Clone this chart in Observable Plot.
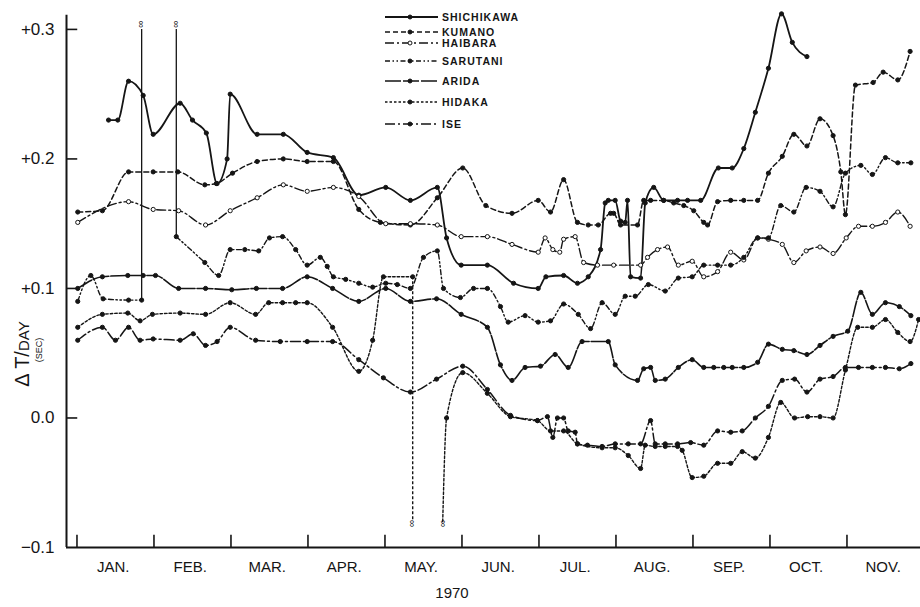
<!DOCTYPE html>
<html><head><meta charset="utf-8">
<script src="https://cdn.jsdelivr.net/npm/d3@7"></script>
<script src="https://cdn.jsdelivr.net/npm/@observablehq/plot@0.6"></script>
<style>body{margin:0;background:#fff}#chart{width:920px;height:607px}</style>
</head><body><div id="chart"></div>
<script>
// x: months since 1 Jan 1970 (0 = Jan 1, 1 = Feb 1, ...); y: ΔT per day (sec)
const monthLabels = ["JAN.","FEB.","MAR.","APR.","MAY.","JUN.","JUL.","AUG.","SEP.","OCT.","NOV."];
const monthTicks = [0,1,2,3,4,5,6,7,8,9,10];
const yTicks = [-0.1, 0, 0.1, 0.2, 0.3];
const yTickLabels = ["\u22120.1","0.0","+0.1","+0.2","+0.3"];
const yearLabel = "1970";

const shichikawa = [[0.41,0.230],[0.53,0.230],[0.67,0.260],[0.86,0.249],[0.99,0.219],[1.34,0.243],[1.50,0.230],[1.68,0.220],[1.82,0.181],[1.95,0.200],[1.99,0.250],[2.34,0.219],[2.68,0.219],[2.99,0.205],[3.33,0.201],[3.66,0.172],[4.01,0.178],[4.33,0.168],[4.68,0.178],[4.80,0.139],[4.99,0.118],[5.33,0.118],[5.67,0.104],[5.99,0.100],[6.09,0.109],[6.32,0.110],[6.50,0.104],[6.64,0.109],[6.80,0.130],[6.86,0.166],[6.90,0.168],[6.99,0.168],[7.06,0.152],[7.12,0.151],[7.15,0.168],[7.19,0.109],[7.32,0.108],[7.38,0.166],[7.49,0.178],[7.62,0.168],[7.80,0.168],[7.93,0.168],[8.10,0.168],[8.33,0.193],[8.51,0.193],[8.66,0.208],[8.81,0.236],[8.98,0.270],[9.15,0.312],[9.29,0.290],[9.48,0.279]];
const kumano = [[0.01,0.159],[0.33,0.160],[0.67,0.190],[0.99,0.190],[1.31,0.190],[1.66,0.180],[1.81,0.181],[2.02,0.189],[2.34,0.198],[2.68,0.200],[2.99,0.198],[3.33,0.198],[3.66,0.161],[3.94,0.151],[4.33,0.149],[4.68,0.170],[5.01,0.193],[5.31,0.164],[5.65,0.158],[5.99,0.168],[6.15,0.159],[6.32,0.184],[6.50,0.151],[6.64,0.149],[6.77,0.149],[6.93,0.158],[6.97,0.158],[7.06,0.149],[7.28,0.149],[7.36,0.168],[7.45,0.168],[7.62,0.168],[7.75,0.166],[7.88,0.164],[8.01,0.160],[8.14,0.151],[8.19,0.149],[8.32,0.167],[8.49,0.168],[8.66,0.168],[8.84,0.168],[8.98,0.189],[9.16,0.202],[9.31,0.219],[9.48,0.210],[9.65,0.231],[9.82,0.218],[9.92,0.190],[9.98,0.157],[10.11,0.257],[10.34,0.259],[10.47,0.267],[10.66,0.261],[10.82,0.283]];
const haibara = [[0.01,0.151],[0.67,0.167],[0.99,0.161],[1.32,0.160],[1.67,0.149],[1.99,0.160],[2.34,0.170],[2.68,0.180],[2.99,0.175],[3.33,0.178],[3.66,0.171],[4.01,0.150],[4.33,0.150],[4.68,0.149],[4.99,0.140],[5.33,0.140],[5.65,0.134],[5.99,0.128],[6.08,0.139],[6.18,0.130],[6.27,0.128],[6.32,0.138],[6.47,0.140],[6.58,0.120],[6.76,0.118],[6.97,0.118],[7.32,0.118],[7.41,0.124],[7.54,0.130],[7.67,0.132],[7.81,0.118],[7.99,0.121],[8.14,0.109],[8.32,0.113],[8.49,0.128],[8.66,0.122],[8.84,0.139],[8.98,0.138],[9.16,0.134],[9.31,0.120],[9.47,0.129],[9.65,0.132],[9.82,0.127],[9.99,0.139],[10.15,0.148],[10.33,0.148],[10.50,0.151],[10.66,0.159],[10.82,0.148]];
const sarutani = [[0.01,0.090],[0.18,0.110],[0.34,0.092],[0.67,0.091],[0.84,0.091],null,[1.29,0.140],[1.66,0.120],[1.84,0.110],[1.99,0.130],[2.18,0.130],[2.36,0.129],[2.50,0.139],[2.67,0.140],[2.84,0.130],[2.99,0.118],[3.16,0.124],[3.25,0.117],[3.33,0.109],[3.49,0.107],[3.66,0.104],[3.84,0.101],[4.01,0.104],[4.16,0.103],[4.33,0.100],[4.50,0.124],[4.68,0.129],[4.76,0.100],[4.98,0.093],[5.15,0.100],[5.33,0.100],[5.50,0.086],[5.60,0.074],[5.82,0.079],[5.99,0.074],[6.15,0.075],[6.32,0.088],[6.51,0.080],[6.67,0.069],[6.82,0.089],[6.99,0.080],[7.12,0.094],[7.25,0.094],[7.42,0.103],[7.64,0.098],[7.81,0.108],[7.99,0.109],[8.14,0.118],[8.32,0.118],[8.49,0.118],[8.66,0.124],[8.84,0.139],[8.98,0.139],[9.14,0.164],[9.31,0.159],[9.47,0.178],[9.65,0.175],[9.82,0.163],[9.98,0.189],[10.18,0.195],[10.33,0.188],[10.50,0.201],[10.66,0.197],[10.83,0.197]];
const arida = [[0.01,0.100],[0.33,0.109],[0.66,0.110],[0.86,0.110],[1.02,0.110],[1.32,0.100],[1.67,0.100],[2.01,0.099],[2.33,0.100],[2.67,0.100],[2.99,0.109],[3.32,0.100],[3.66,0.090],[4.01,0.100],[4.33,0.090],[4.67,0.092],[4.99,0.080],[5.33,0.070],[5.50,0.041],[5.65,0.029],[5.82,0.039],[6.02,0.040],[6.21,0.049],[6.38,0.039],[6.56,0.059],[6.90,0.059],[6.99,0.041],[7.28,0.029],[7.36,0.038],[7.45,0.039],[7.51,0.029],[7.64,0.030],[7.81,0.039],[7.99,0.045],[8.14,0.039],[8.27,0.039],[8.40,0.039],[8.51,0.039],[8.66,0.039],[8.84,0.043],[8.98,0.057],[9.16,0.053],[9.31,0.052],[9.48,0.049],[9.65,0.056],[9.82,0.063],[10.01,0.067],[10.18,0.097],[10.33,0.080],[10.50,0.089],[10.68,0.086],[10.83,0.079]];
const hidaka = [[0.01,0.070],[0.33,0.080],[0.66,0.081],[0.82,0.075],[0.98,0.080],[1.34,0.081],[1.67,0.080],[1.99,0.089],[2.32,0.080],[2.49,0.089],[2.67,0.089],[2.84,0.089],[2.99,0.089],[3.32,0.070],[3.66,0.036],[3.84,0.060],[3.98,0.109],[4.36,0.109],null,[4.75,-0.080],[4.80,0.000],[5.01,0.035],[5.33,0.019],[5.63,0.001],[5.98,-0.002],[6.15,-0.010],[6.32,-0.010],[6.50,-0.020],[6.82,-0.023],[6.99,-0.023],[7.16,-0.029],[7.32,-0.039],[7.38,-0.021],[7.51,-0.022],[7.64,-0.022],[7.80,-0.022],[7.86,-0.025],[7.99,-0.046],[8.14,-0.045],[8.32,-0.035],[8.49,-0.035],[8.64,-0.026],[8.81,-0.031],[8.98,-0.015],[9.14,0.012],[9.32,0.000],[9.49,0.001],[9.65,0.001],[9.82,0.000],[9.98,0.037],[10.14,0.070],[10.33,0.070],[10.50,0.076],[10.66,0.066],[10.82,0.059],[10.93,0.076]];
const ise = [[0.01,0.060],[0.33,0.070],[0.50,0.060],[0.67,0.070],[0.82,0.060],[0.99,0.061],[1.34,0.060],[1.51,0.065],[1.67,0.056],[1.82,0.059],[1.99,0.070],[2.32,0.060],[2.64,0.059],[2.99,0.059],[3.32,0.059],[3.66,0.045],[3.98,0.031],[4.33,0.020],[4.67,0.030],[5.01,0.040],[5.33,0.022],[5.63,0.002],[5.98,-0.002],[6.11,0.001],[6.18,-0.015],[6.24,0.000],[6.32,0.000],[6.38,-0.010],[6.47,-0.011],[6.50,-0.020],[6.63,-0.021],[6.82,-0.022],[6.99,-0.020],[7.16,-0.020],[7.32,-0.020],[7.45,-0.002],[7.51,-0.020],[7.64,-0.020],[7.80,-0.020],[7.97,-0.019],[8.14,-0.021],[8.32,-0.010],[8.49,-0.011],[8.64,-0.010],[8.81,0.000],[8.98,0.009],[9.16,0.029],[9.32,0.030],[9.48,0.020],[9.65,0.030],[9.82,0.032],[9.98,0.039],[10.15,0.039],[10.33,0.039],[10.50,0.039],[10.68,0.038],[10.83,0.042]];

// off-scale excursions: [x, from, to]
const sarutaniJumps = [[0.84,0.091,0.300],[1.29,0.300,0.140]];
const hidakaJumps = [[4.36,0.109,-0.080]];
const breakSymbolsTop = [[0.84,0.300],[1.29,0.300]];
const breakSymbolsBottom = [[4.36,-0.080],[4.75,-0.080]];

const seriesNames = ["SHICHIKAWA","KUMANO","HAIBARA","SARUTANI","ARIDA","HIDAKA","ISE"];
const seriesData = [shichikawa, kumano, haibara, sarutani, arida, hidaka, ise];

const INK = "#151515";
const FONT = "'Liberation Sans', Arial, sans-serif";
const styles = {
  SHICHIKAWA:{dash:null, width:1.8, hollow:false},
  KUMANO:{dash:"5,3", width:1.5, hollow:false},
  HAIBARA:{dash:"9,3,2,3", width:1.4, hollow:true},
  SARUTANI:{dash:"5,2.5,1.5,2.5,1.5,2.5", width:1.4, hollow:false},
  ARIDA:{dash:"16,2", width:1.6, hollow:false},
  HIDAKA:{dash:"2.5,2", width:1.4, hollow:false},
  ISE:{dash:"10,3,2,3", width:1.5, hollow:false}
};

function toRows(name, arr){
  let seg = 0; const out = [];
  for (const p of arr){
    if (p === null){ seg++; continue; }
    out.push({series:name, seg:name+"-"+seg, t:p[0], v:p[1]});
  }
  return out;
}

const xDomain = [-0.136, 10.955];
const seriesMarks = [];
seriesNames.forEach((name, i) => {
  const rows = toRows(name, seriesData[i]);
  const st = styles[name];
  seriesMarks.push(Plot.line(rows, {x:"t", y:"v", z:"seg", curve:"monotone-x", stroke:INK,
    strokeWidth:st.width, strokeDasharray:st.dash || undefined}));
  seriesMarks.push(Plot.dot(rows.filter(r => r.v > -0.079), {x:"t", y:"v", r:2.1,
    fill: st.hollow ? "#fff" : INK, stroke:INK, strokeWidth:1}));
});

const plot = Plot.plot({
  width:920, height:607,
  marginLeft:66, marginRight:0, marginTop:3, marginBottom:60,
  x:{domain:xDomain, axis:null},
  y:{domain:[-0.1, 0.32], axis:null},
  style:{fontFamily:FONT, background:"#fff", color:INK},
  marks:[
    Plot.ruleY([-0.1], {stroke:INK, strokeWidth:2}),
    Plot.ruleX([xDomain[0]], {y1:-0.1, y2:0.311, stroke:INK, strokeWidth:2}),
    Plot.ruleX(monthTicks, {y1:-0.1, y2:-0.1 + 0.0095, stroke:INK, strokeWidth:1.6}),
    Plot.ruleY(yTicks.filter(d => d > -0.1), {x1:xDomain[0], x2:0.01, stroke:INK, strokeWidth:1.6}),
    Plot.text(monthLabels, {x:(d,i) => monthTicks[i] + 0.47, y:-0.1, dy:20, text:d => d, fontSize:15, fill:INK}),
    Plot.text(yTicks, {x:xDomain[0], y:d => d, dx:-12, textAnchor:"end", text:(d,i) => yTickLabels[i], fontSize:17, fill:INK}),
    ...seriesMarks,
    Plot.ruleX(sarutaniJumps, {x:d => d[0], y1:d => d[1], y2:d => d[2], stroke:INK, strokeWidth:1.3}),
    Plot.ruleX(hidakaJumps, {x:d => d[0], y1:d => d[1], y2:d => d[2], stroke:INK, strokeWidth:1.4, strokeDasharray:"3,2"}),
    Plot.text(breakSymbolsTop, {x:d => d[0], y:d => d[1], dy:-5, text:() => "\u221E", rotate:90, fontSize:10, fill:INK}),
    Plot.text(breakSymbolsBottom, {x:d => d[0], y:d => d[1], dy:2, text:() => "\u221E", rotate:90, fontSize:10, fill:INK})
  ]
});
document.getElementById("chart").appendChild(plot);

// legend, axis title and year label
const svg = d3.select(plot);
const leg = svg.append("g").attr("font-family", FONT).attr("text-anchor","start");
const legendRowY = [17,32,43,61,81,102,124];
seriesNames.forEach((name, i) => {
  const st = styles[name];
  const y = legendRowY[i];
  leg.append("line").attr("x1",385).attr("x2",438).attr("y1",y).attr("y2",y)
    .attr("stroke",INK).attr("stroke-width",st.width)
    .attr("stroke-dasharray", st.dash || null);
  leg.append("circle").attr("cx",410).attr("cy",y).attr("r",2)
    .attr("fill", st.hollow ? "#fff" : INK).attr("stroke",INK);
  leg.append("text").attr("x",442).attr("y",y+4).attr("font-size",10.5)
    .attr("text-anchor","start")
    .attr("font-weight","bold").attr("letter-spacing",1).attr("fill",INK).text(name);
});
const yl = svg.append("g").attr("transform","translate(29,354) rotate(-90)")
  .attr("font-family", FONT).attr("fill",INK).attr("text-anchor","middle");
const t1 = yl.append("text").attr("text-anchor","middle").attr("font-size",20);
t1.append("tspan").text("\u0394 T/");
t1.append("tspan").attr("font-size",15).text("DAY");
yl.append("text").attr("x",4).attr("y",13).attr("text-anchor","middle").attr("font-size",9).text("(SEC)");
svg.append("text").attr("x",452).attr("y",598).attr("text-anchor","middle")
  .attr("font-family", FONT).attr("font-size",15).attr("fill",INK).text(yearLabel);
</script>
</body></html>
